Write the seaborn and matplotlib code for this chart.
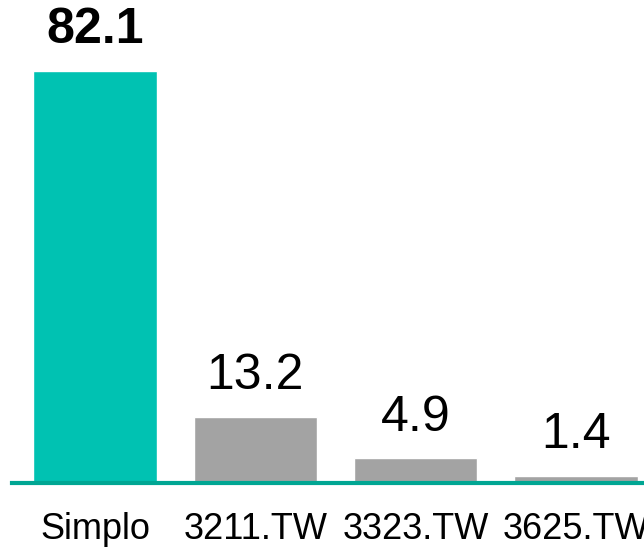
import matplotlib
matplotlib.use("Agg")
import matplotlib.pyplot as plt
import seaborn as sns
import pandas as pd

categories = ["Simplo", "3211.TW", "3323.TW", "3625.TW"]
values = [82.1, 13.2, 4.9, 1.4]
labels = ["82.1", "13.2", "4.9", "1.4"]
colors = ["#00C2B2", "#A3A3A3", "#A3A3A3", "#A3A3A3"]

sns.set_theme(style="white")
plt.rcParams["font.family"] = ["Liberation Sans", "DejaVu Sans"]

df = pd.DataFrame({"cat": categories, "val": values})

fig = plt.figure(figsize=(6.44, 5.48), dpi=100)
ax = fig.add_axes([12 / 644, (548 - 483) / 548, 1 - 12 / 644, 483 / 548])
sns.barplot(data=df, x="cat", y="val", hue="cat", palette=colors,
            width=0.77, saturation=1, legend=False, ax=ax)

ax.set_xlim(-0.518, 3.425)
ax.set_ylim(0, 96.2)
for i, (v, t) in enumerate(zip(values, labels)):
    ax.text(i, v + 5.5, t, ha="center", va="baseline", fontsize=36,
            fontweight="bold" if i == 0 else "normal", color="black")

for s in ["top", "right", "left"]:
    ax.spines[s].set_visible(False)
ax.spines["bottom"].set_color("#00A693")
ax.spines["bottom"].set_linewidth(3)
ax.set_yticks([])
ax.set_xlabel("")
ax.set_ylabel("")
ax.tick_params(axis="x", length=0, pad=21, labelsize=26, labelcolor="black")

fig.savefig("out.png", dpi=100)
